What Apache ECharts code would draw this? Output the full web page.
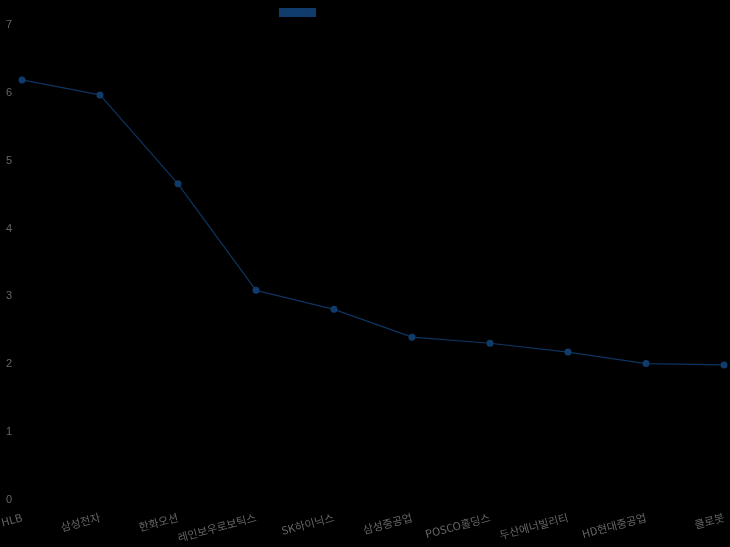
<!DOCTYPE html>
<html>
<head>
<meta charset="utf-8">
<script src="https://cdn.jsdelivr.net/npm/echarts@6/dist/echarts.min.js"></script>
<style>html,body{margin:0;padding:0;background:#000;}#c{width:730px;height:547px;}</style>
</head>
<body>
<div id="c"></div>
<script>
const categories = ['HLB','삼성전자','한화오션','레인보우로보틱스','SK하이닉스','삼성중공업','POSCO홀딩스','두산에너빌리티','HD현대중공업','클로봇'];
const values = [6.19, 5.97, 4.66, 3.09, 2.81, 2.40, 2.31, 2.18, 2.01, 1.99];
const seriesName = 'value';

const chart = echarts.init(document.getElementById('c'), null, {renderer:'canvas'});
chart.setOption({
  backgroundColor: '#000',
  animation: false,
  legend: {
    top: 3,
    left: 274,
    itemWidth: 37,
    itemHeight: 9,
    icon: 'rect',
    itemGap: 0,
    formatter: function () { return ''; },
    textStyle: {color: '#666', fontSize: 11},
    data: [seriesName]
  },
  grid: {left: 22, right: 6, top: 25, bottom: 47, outerBoundsMode: 'none', containLabel: false},
  xAxis: {
    type: 'category',
    data: categories,
    boundaryGap: false,
    axisLine: {show: false},
    axisTick: {show: false},
    splitLine: {show: false},
    axisLabel: {color: '#666', fontSize: 11, rotate: 15, margin: 17, interval: 0, fontFamily: 'Noto Sans CJK KR'}
  },
  yAxis: {
    type: 'value',
    min: 0, max: 7, interval: 1,
    axisLine: {show: false},
    axisTick: {show: false},
    splitLine: {show: false},
    axisLabel: {color: '#666', fontSize: 11, margin: 10, align: 'left', padding: [0,0,0,-6]}
  },
  series: [{
    name: seriesName,
    type: 'line',
    data: values,
    symbol: 'circle',
    symbolSize: 7,
    lineStyle: {color: '#0e3460', width: 1.2},
    itemStyle: {color: '#0f3c6b'}
  }]
});
</script>
</body>
</html>
